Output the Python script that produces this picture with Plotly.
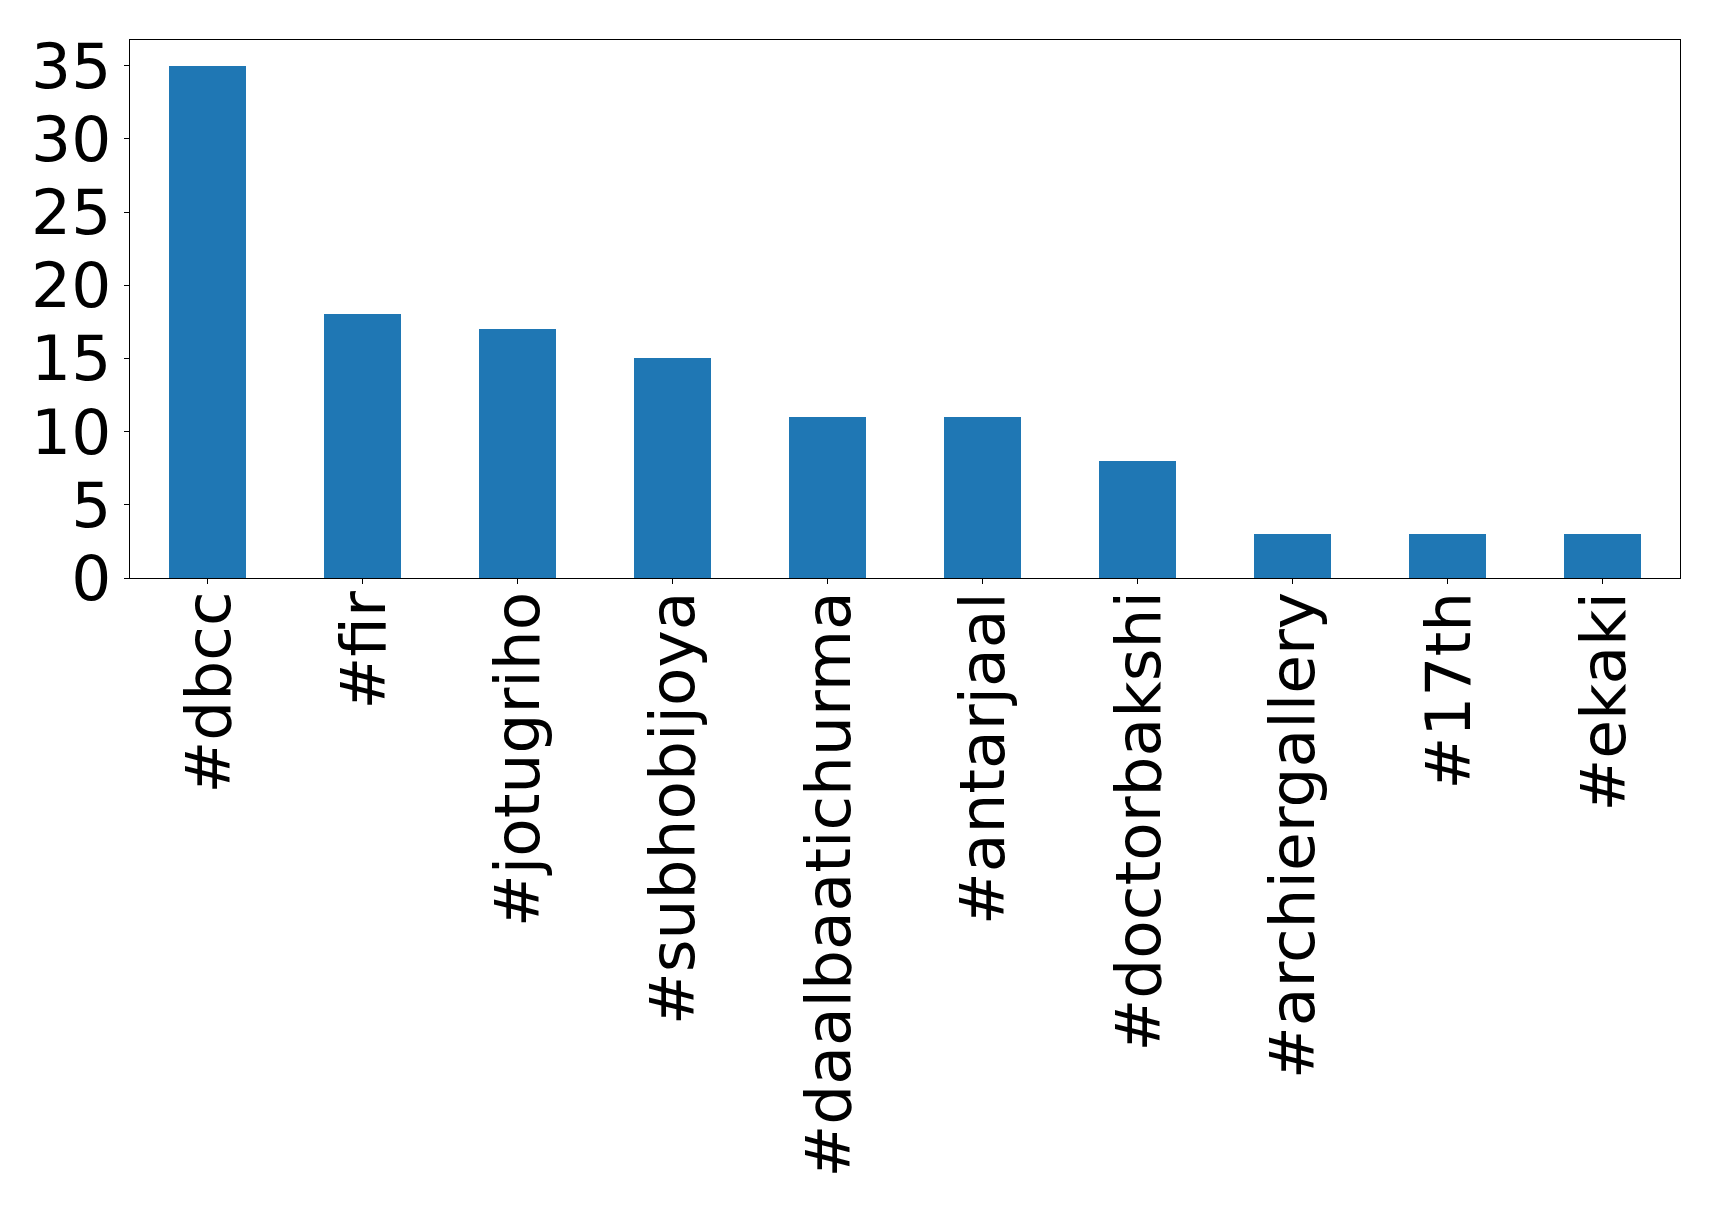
import plotly.graph_objects as go

categories = ["#dbcc", "#fir", "#jotugriho", "#subhobijoya", "#daalbaatichurma",
              "#antarjaal", "#doctorbakshi", "#archiergallery", "#17th", "#ekaki"]
counts = [35, 18, 17, 15, 11, 11, 8, 3, 3, 3]
y_ticks = [0, 5, 10, 15, 20, 25, 30, 35]

positions = list(range(len(categories)))

fig = go.Figure(go.Bar(x=positions, y=counts, width=0.5,
                       marker=dict(color="#1f77b4", line=dict(width=0))))

# Category labels as rotated text anchored to the x-axis scale
for pos, label in zip(positions, categories):
    fig.add_annotation(x=pos, y=0, xref="x", yref="paper", text=label, showarrow=False,
                       textangle=-90, xanchor="center", yanchor="top", yshift=-13,
                       font=dict(family="DejaVu Sans", size=63, color="black"),
                       borderpad=0)

fig.update_layout(
    width=1703, height=1193,
    margin=dict(l=122, r=31, t=32, b=623),
    plot_bgcolor="white", paper_bgcolor="white",
    font=dict(family="DejaVu Sans", size=63, color="black"),
    showlegend=False,
    bargap=0,
)
fig.update_xaxes(range=[-0.5, 9.5], tickvals=positions, showticklabels=False,
                 showline=True, linecolor="black", linewidth=1.3, mirror=True,
                 ticks="outside", ticklen=5, tickwidth=1.2, tickcolor="black",
                 showgrid=False, zeroline=False, automargin=False)
fig.update_yaxes(range=[0, 36.75], tickvals=y_ticks, showline=True, linecolor="black",
                 linewidth=1.3, mirror=True, ticks="outside", ticklen=5, tickwidth=1.2,
                 tickcolor="black", showgrid=False, zeroline=False, ticklabelstandoff=0,
                 automargin=False)

fig.write_html("out.html")
